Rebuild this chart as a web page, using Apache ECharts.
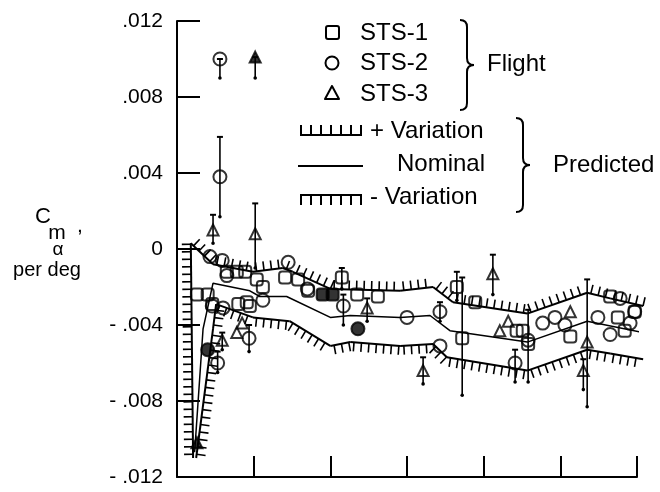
<!DOCTYPE html>
<html><head><meta charset="utf-8">
<script src="https://cdn.jsdelivr.net/npm/echarts@6/dist/echarts.min.js"></script>
<style>html,body{margin:0;padding:0;background:#fff}#c{width:660px;height:492px}</style>
</head><body><div id="c"></div>
<script>
const FONT = '"Liberation Sans", Arial, Helvetica, sans-serif';

// x positions (unlabelled axis, 6 divisions)
const xTicks = [0, 1, 2, 3, 4, 5, 6];
const yTickLabels = ['- .012', '- .008', '- .004', '0', '.004', '.008', '.012'];

// Flight data: [x, Cm_alpha, errLow, errHigh, filled]
const sts1 = [
  [0.26,-0.0024],[0.40,-0.0024],[0.46,-0.0029],[0.65,-0.0012],[0.78,-0.0012],[0.89,-0.0012],
  [0.80,-0.0029],[0.91,-0.0028],[0.95,-0.0030],[1.04,-0.0016],[1.12,-0.0020],[1.41,-0.0015],
  [1.58,-0.0016],[1.71,-0.0022],[1.90,-0.0024,null,null,1],[2.03,-0.0024,null,null,1],
  [2.15,-0.0015,-0.0021,-0.0010],[2.35,-0.0024],[2.62,-0.0025],
  [3.65,-0.0020,-0.0027,-0.0012],[3.72,-0.0047,-0.0077,-0.0015],[3.89,-0.0028],
  [4.43,-0.0043],[4.51,-0.0043],[4.58,-0.0050,-0.0070,-0.0032],[5.13,-0.0046],
  [5.65,-0.0025],[5.75,-0.0036],[5.84,-0.0043],[5.97,-0.0033]
];
const sts2 = [
  [0.56,0.0100,0.0090,0.0100],[0.56,0.0038,0.0017,0.0059],[0.43,-0.0004],[0.59,-0.0006],
  [0.65,-0.0014],[0.46,-0.0030],[0.60,-0.0031],[0.94,-0.0047,-0.0054,-0.0040],
  [0.53,-0.0060,-0.0065,-0.0054],[0.40,-0.0053,null,null,1],[1.12,-0.0027],[1.45,-0.0007],
  [1.70,-0.0021],[2.17,-0.0030,-0.0040,-0.0024],[2.36,-0.0042,null,null,1],[3.00,-0.0036],
  [3.43,-0.0033,-0.0038,-0.0028],[3.43,-0.0051],[4.41,-0.0060,-0.0070,-0.0053],
  [4.58,-0.0048],[4.77,-0.0039],[4.93,-0.0036],[5.06,-0.0040],[5.49,-0.0036],
  [5.78,-0.0026],[5.91,-0.0039],[5.97,-0.0033],[5.65,-0.0045]
];
const sts3 = [
  [1.02,0.0101,0.0090,0.0101,1],[0.47,0.0010,0.0003,0.0018],[1.02,0.0008,-0.0010,0.0024],
  [0.59,-0.0048,-0.0053,-0.0044],[0.85,-0.0039],[0.78,-0.0044],[0.26,-0.0102,null,null,1],
  [2.48,-0.0031,-0.0038,-0.0026],[3.21,-0.0064,-0.0071,-0.0057],[4.12,-0.0013,-0.0024,-0.0003],
  [4.32,-0.0038],[4.21,-0.0043],[5.35,-0.0049,-0.0083,-0.0016],[5.30,-0.0064,-0.0074,-0.0058],
  [5.13,-0.0033]
];

// Predicted curves: [x, Cm_alpha]
const plusVariation = [
  [0.21,-0.0110],[0.18,0.0003],[0.47,-0.0008],[0.99,-0.0012],[1.38,-0.0010],[1.51,-0.0012],
  [2.00,-0.0021],[2.91,-0.0022],[3.34,-0.0020],[3.60,-0.0028],[4.57,-0.0034],[5.35,-0.0023],
  [5.65,-0.0026],[6.08,-0.0030]
];
const nominal = [
  [0.23,-0.0107],[0.34,-0.0042],[0.47,-0.0018],[0.95,-0.0022],[1.08,-0.0025],[1.43,-0.0025],
  [2.00,-0.0036],[2.26,-0.0035],[2.91,-0.0036],[3.30,-0.0035],[3.56,-0.0043],[4.57,-0.0049],
  [5.35,-0.0038],[6.08,-0.0044]
];
const minusVariation = [
  [0.25,-0.0110],[0.47,-0.0042],[0.51,-0.0029],[0.99,-0.0036],[1.47,-0.0038],[2.00,-0.0051],
  [2.26,-0.0049],[2.91,-0.0051],[3.34,-0.0050],[3.52,-0.0057],[4.57,-0.0064],[5.35,-0.0053],
  [5.65,-0.0055],[6.08,-0.0058]
];

function hatchSeries(line, side) {
  const segs = [];
  for (let i = 0; i < line.length - 1; i++) segs.push([line[i][0], line[i][1], line[i+1][0], line[i+1][1]]);
  return {
    type: 'custom', data: segs, clip: false, silent: true, z: 3,
    renderItem(params, api) {
      const a = api.coord([api.value(0), api.value(1)]);
      const b = api.coord([api.value(2), api.value(3)]);
      const dx = b[0]-a[0], dy = b[1]-a[1], L = Math.hypot(dx, dy);
      const ux = dx/L, uy = dy/L;
      const nx = side > 0 ? uy : -uy, ny = side > 0 ? -ux : ux;
      const ch = [{type:'line', shape:{x1:a[0],y1:a[1],x2:b[0],y2:b[1]}, style:{stroke:'#000', lineWidth:2}}];
      const step = 7.5, len = 9;
      for (let s = step/2; s < L; s += step) {
        const px = a[0]+ux*s, py = a[1]+uy*s;
        ch.push({type:'line', shape:{x1:px,y1:py,x2:px+nx*len,y2:py+ny*len}, style:{stroke:'#000', lineWidth:1.6}});
      }
      return {type:'group', children: ch};
    }
  };
}

function errSeries(pts) {
  return {
    type: 'custom', clip: false, silent: true, z: 4,
    data: pts.filter(p => p[2] != null).map(p => [p[0], p[2], p[3]]),
    renderItem(params, api) {
      const lo = api.coord([api.value(0), api.value(1)]);
      const hi = api.coord([api.value(0), api.value(2)]);
      return {type:'group', children:[
        {type:'line', shape:{x1:lo[0],y1:lo[1],x2:hi[0],y2:hi[1]}, style:{stroke:'#000', lineWidth:1.6}},
        {type:'line', shape:{x1:hi[0]-3,y1:hi[1],x2:hi[0]+3,y2:hi[1]}, style:{stroke:'#000', lineWidth:2}},
        {type:'circle', shape:{cx:lo[0],cy:lo[1],r:1.8}, style:{fill:'#000'}}
      ]};
    }
  };
}

function scatterSeries(name, pts, symbol, size) {
  return {
    name, type: 'scatter', symbol, symbolSize: size, z: 5,
    data: pts.map(p => ({value:[p[0], p[1]], itemStyle: p[4] ? {color:'#000'} : undefined})),
    itemStyle: {color:'rgba(0,0,0,0)', borderColor:'#000', borderWidth:2}
  };
}

const S = {stroke:'#000', lineWidth:2, fill:'none'};
function brace(x, y1, y2, w) {
  const ym = (y1+y2)/2, xm = x + w/2, r = 7;
  return {type:'group', children:[
    {type:'bezierCurve', shape:{x1:x, y1:y1, cpx1:xm, cpy1:y1, x2:xm, y2:y1+r}, style:S},
    {type:'line', shape:{x1:xm, y1:y1+r, x2:xm, y2:ym-r}, style:S},
    {type:'bezierCurve', shape:{x1:xm, y1:ym-r, cpx1:xm, cpy1:ym, x2:x+w, y2:ym}, style:S},
    {type:'bezierCurve', shape:{x1:x+w, y1:ym, cpx1:xm, cpy1:ym, x2:xm, y2:ym+r}, style:S},
    {type:'line', shape:{x1:xm, y1:ym+r, x2:xm, y2:y2-r}, style:S},
    {type:'bezierCurve', shape:{x1:xm, y1:y2-r, cpx1:xm, cpy1:y2, x2:x, y2:y2}, style:S}
  ]};
}
function hatchLegend(x1, x2, y, dir, step, len) {
  const ch = [{type:'line', shape:{x1, y1:y, x2, y2:y}, style:S}];
  for (let x = x1+1; x <= x2; x += step) ch.push({type:'line', shape:{x1:x, y1:y, x2:x, y2:y+dir*len}, style:S});
  return {type:'group', children: ch};
}

const chart = echarts.init(document.getElementById('c'));
const txt = (t, x, y, size, align) => ({type:'text', x, y, style:{text:t, font:`${size}px ${FONT}`, fill:'#000', textAlign:align||'left', textVerticalAlign:'middle'}});

chart.setOption({
  animation: false,
  backgroundColor: '#fff',
  grid: {left: 177, right: 23, top: 21, bottom: 15},
  xAxis: {
    type: 'value', min: xTicks[0], max: xTicks[xTicks.length-1], interval: 1,
    axisLine: {onZero: false, lineStyle: {color:'#000', width: 2}},
    axisTick: {inside: true, length: 21, lineStyle: {color:'#000', width: 2}},
    axisLabel: {show: false}, splitLine: {show: false}
  },
  yAxis: {
    type: 'value', min: -0.012, max: 0.012, interval: 0.004,
    axisLine: {lineStyle: {color:'#000', width: 2}},
    axisTick: {inside: true, length: 23, lineStyle: {color:'#000', width: 2}},
    axisLabel: {color:'#000', fontSize: 21, fontFamily: FONT, margin: 14,
      formatter: v => yTickLabels[Math.round((v + 0.012) / 0.004)]},
    splitLine: {show: false}
  },
  series: [
    hatchSeries(plusVariation, 1),
    {type:'line', data: nominal, symbol:'none', lineStyle:{color:'#000', width:1.5}, z:3, clip:false},
    hatchSeries(minusVariation, -1),
    errSeries(sts1), errSeries(sts2), errSeries(sts3),
    scatterSeries('STS-1', sts1, 'roundRect', 12),
    scatterSeries('STS-2', sts2, 'circle', 13),
    scatterSeries('STS-3', sts3, 'triangle', 11)
  ],
  graphic: [
    {type:'rect', shape:{x:326, y:26, width:13, height:13, r:2}, style:S},
    {type:'circle', shape:{cx:332, cy:63, r:6.5}, style:S},
    {type:'polygon', shape:{points:[[332,86],[325,99],[339,99]]}, style:Object.assign({lineJoin:'round'}, S)},
    txt('STS-1', 360, 33, 24), txt('STS-2', 360, 63, 24), txt('STS-3', 360, 94, 24),
    brace(460, 20, 110, 14),
    txt('Flight', 487, 64, 24),
    hatchLegend(300, 362, 135, -1, 10, 10),
    {type:'line', shape:{x1:298, y1:166, x2:363, y2:166}, style:S},
    hatchLegend(300, 362, 195, 1, 10, 10),
    txt('+ Variation', 370, 131, 24), txt('Nominal', 397, 164, 24), txt('- Variation', 370, 197, 24),
    brace(516, 118, 212, 14),
    txt('Predicted', 553, 165, 24),
    txt('C', 43, 217, 22, 'center'),
    txt('m', 57, 233, 21, 'center'),
    txt('α', 58, 250, 19, 'center'),
    txt(',', 80, 226, 21, 'center'),
    txt('per deg', 47, 270, 20, 'center')
  ]
});
</script></body></html>
